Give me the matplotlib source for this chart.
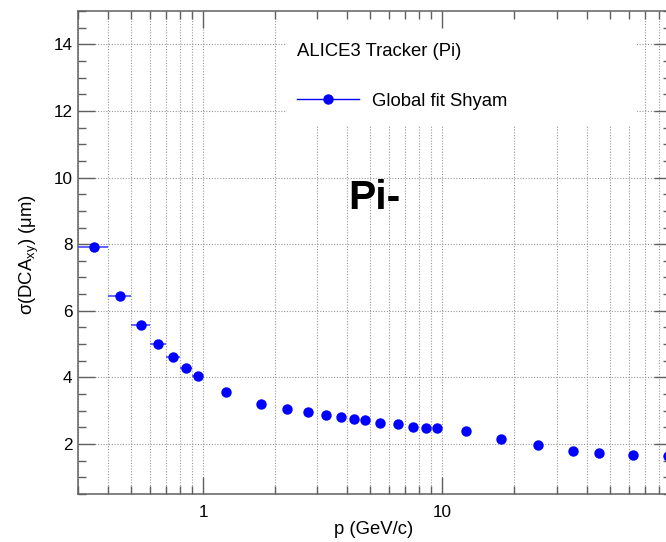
import matplotlib
matplotlib.use('Agg')
import matplotlib.pyplot as plt
from matplotlib.lines import Line2D
from matplotlib.patches import Rectangle
from matplotlib.ticker import LogLocator, MultipleLocator, NullFormatter, FuncFormatter

plt.rcParams['font.family'] = ['Liberation Sans', 'DejaVu Sans']
plt.rcParams['mathtext.fontset'] = 'custom'
plt.rcParams['mathtext.rm'] = 'Liberation Sans'
plt.rcParams['mathtext.it'] = 'Liberation Sans:italic'

# DCA_xy resolution vs momentum (pions)
p = [0.35, 0.45, 0.55, 0.65, 0.75, 0.85, 0.95, 1.25, 1.75, 2.25, 2.75, 3.25, 3.75,
     4.25, 4.75, 5.5, 6.5, 7.5, 8.5, 9.5, 12.5, 17.5, 25, 35, 45, 62.5, 87.5]
p_err = [0.05, 0.05, 0.05, 0.05, 0.05, 0.05, 0.05] + [0] * 20
sigma = [7.93, 6.44, 5.57, 5.00, 4.61, 4.28, 4.03, 3.55, 3.20, 3.05, 2.96, 2.87, 2.80,
         2.75, 2.72, 2.63, 2.59, 2.51, 2.49, 2.47, 2.38, 2.16, 1.96, 1.80, 1.74, 1.68, 1.64]

x_range = (0.3, 90)
y_range = (0.5, 15)
frame_col = '#606060'

fig = plt.figure(figsize=(6.66, 5.42), dpi=100)
pos = [78 / 666, 1 - 494 / 542, (670.8 - 78) / 666, (494 - 11) / 542]

# background axes: grid + legend box
ax_bg = fig.add_axes(pos)
ax_bg.set_xscale('log')
ax_bg.set_xlim(*x_range)
ax_bg.set_ylim(*y_range)
ax_bg.xaxis.set_major_locator(LogLocator(base=10))
ax_bg.xaxis.set_minor_locator(LogLocator(base=10, subs=range(2, 10)))
ax_bg.yaxis.set_major_locator(MultipleLocator(2))
ax_bg.grid(True, which='both', axis='x', color='#9a9a9a', lw=0.8, ls=(0, (1, 1.5)))
ax_bg.grid(True, which='major', axis='y', color='#9a9a9a', lw=0.8, ls=(0, (1, 1.5)))
ax_bg.tick_params(which='both', length=0, labelbottom=False, labelleft=False)
for s in ax_bg.spines.values():
    s.set_visible(False)
ax_bg.add_patch(Rectangle((0.3526, 0.764), 0.943 - 0.3526, 0.236,
                          transform=ax_bg.transAxes, facecolor='white',
                          edgecolor='none', zorder=3))

# main axes: data, ticks, frame
ax = fig.add_axes(pos)
ax.set_facecolor('none')
ax.set_xscale('log')
ax.errorbar(p, sigma, xerr=p_err, fmt='o', color='blue', ms=7.5, mew=0,
            ecolor='#4848ff', elinewidth=1.2, capsize=0, clip_on=False, zorder=4)
ax.set_xlim(*x_range)
ax.set_ylim(*y_range)
ax.xaxis.set_major_locator(LogLocator(base=10))
ax.xaxis.set_minor_locator(LogLocator(base=10, subs=range(2, 10)))
ax.xaxis.set_minor_formatter(NullFormatter())
ax.xaxis.set_major_formatter(FuncFormatter(lambda v, _: f'{v:g}'))
ax.yaxis.set_major_locator(MultipleLocator(2))
ax.yaxis.set_minor_locator(MultipleLocator(0.5))
ax.tick_params(which='both', direction='in', top=True, right=True, color=frame_col,
               width=1.0, labelsize=12.3)
ax.tick_params(which='major', length=12)
ax.tick_params(which='minor', length=6)
ax.tick_params(axis='x', pad=8)
ax.tick_params(axis='y', pad=4)
for s in ax.spines.values():
    s.set_color(frame_col)
    s.set_linewidth(1.1)

fig.text(29 / 666, 1 - 255 / 542, r'σ(DCA$_\mathrm{xy}$) (μm)', rotation=90,
         ha='center', va='center', fontsize=13.3)
fig.text(374 / 666, 1 - 530 / 542, 'p (GeV/c)', ha='center', va='center', fontsize=13.3)
fig.text(374 / 666, 1 - 198 / 542, 'Pi-', ha='center', va='center', fontsize=29.5,
         fontweight='bold')

handle = Line2D([], [], color='blue', lw=1, marker='o', ms=7.5, mew=0)
leg = ax_bg.legend([handle], ['Global fit Shyam'], title='ALICE3 Tracker (Pi)',
                   loc='upper left', bbox_to_anchor=(288 / 666, 1 - 34 / 542),
                   bbox_transform=fig.transFigure, frameon=False, borderpad=0,
                   fontsize=13.3, title_fontsize=13.3, alignment='left',
                   handlelength=3.35, handletextpad=0.7, labelspacing=1.77)
leg.set_zorder(5)

fig.savefig('out.png', dpi=100)
